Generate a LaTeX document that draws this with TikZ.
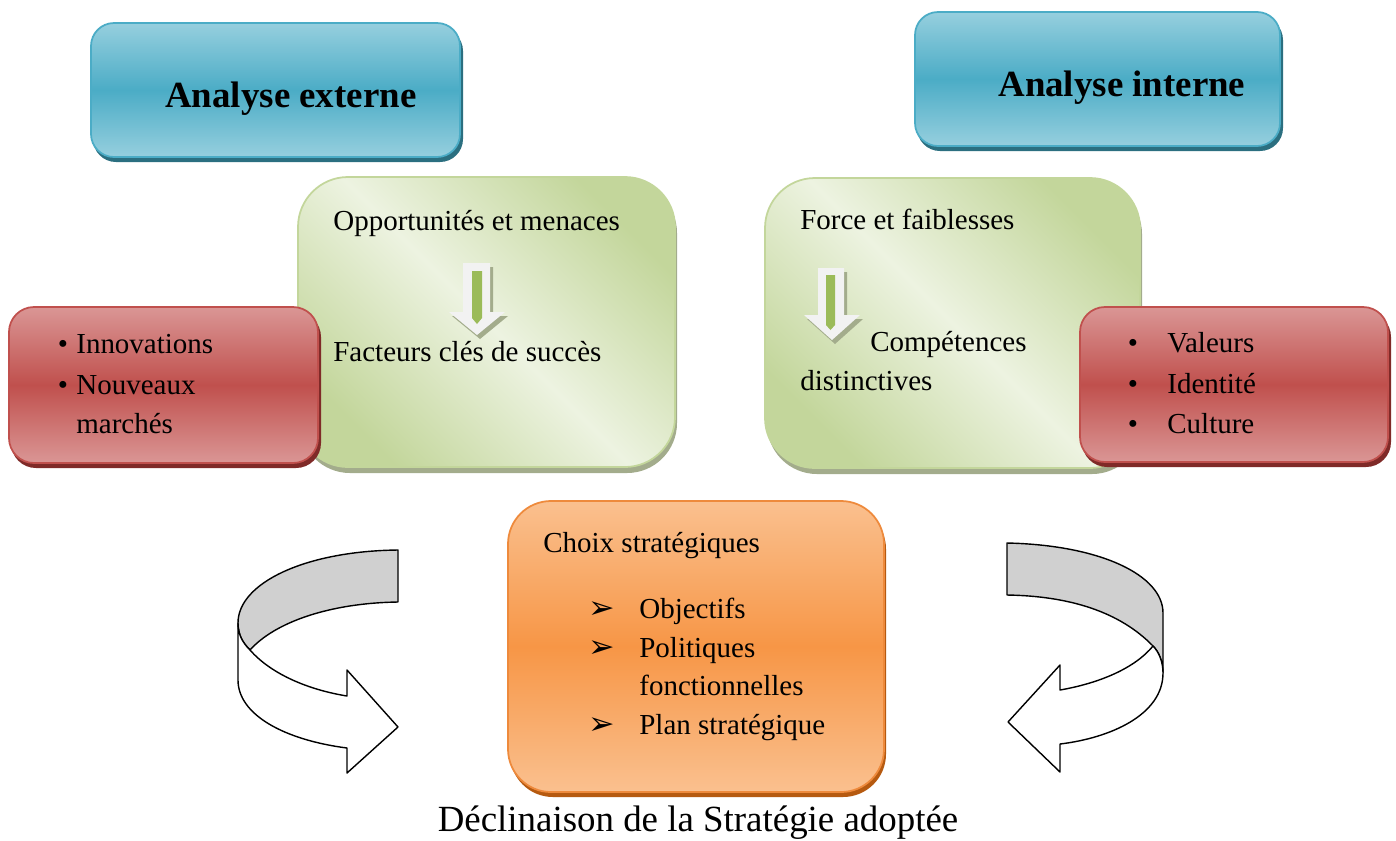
\documentclass[tikz,border=0pt]{standalone}
\usepackage{fontspec}
\setmainfont{Liberation Serif}
\newfontfamily\flechefont{DejaVu Sans}

\definecolor{bleuClair}{HTML}{96CFDE}
\definecolor{bleuFonce}{HTML}{4BACC6}
\definecolor{bleuOmbre}{HTML}{2B6F80}
\definecolor{vertClair}{HTML}{EDF3E1}
\definecolor{vertFonce}{HTML}{C3D69B}
\definecolor{vertOmbre}{HTML}{A3AC8C}
\definecolor{vertFleche}{HTML}{9BBB59}
\definecolor{rougeClair}{HTML}{DA9695}
\definecolor{rougeFonce}{HTML}{C0504D}
\definecolor{rougeOmbre}{HTML}{7F2A28}
\definecolor{orangeClair}{HTML}{FAC08F}
\definecolor{orangeFonce}{HTML}{F79646}
\definecolor{orangeBord}{HTML}{EE8A3C}
\definecolor{orangeOmbre}{HTML}{B65A10}
\definecolor{grisRuban}{HTML}{D0D0D0}

\tikzset{
  txt/.style={anchor=base west, inner sep=0pt, font=\fontsize{16.5}{22.7}\selectfont},
  titre/.style={anchor=base west, inner sep=0pt, font=\fontsize{21}{25}\selectfont\bfseries},
  bluebox/.style={rounded corners=0.46cm, draw=bleuFonce, line width=1pt,
    top color=bleuClair, bottom color=bleuClair, middle color=bleuFonce},
  greenbox/.style={rounded corners=1cm, draw=vertFonce, line width=1pt,
    top color=vertFonce, bottom color=vertFonce, middle color=vertClair, shading angle=-45},
  redbox/.style={rounded corners=0.5cm, draw=rougeFonce, line width=1pt,
    top color=rougeClair, bottom color=rougeClair, middle color=rougeFonce},
  orangebox/.style={rounded corners=0.86cm, draw=orangeBord, line width=1pt,
    top color=orangeClair, bottom color=orangeClair, middle color=orangeFonce},
  ruban/.style={draw=black, line width=0.8pt, line join=round},
}

\begin{document}
\begin{tikzpicture}[x=0.02cm, y=-0.02cm]
  \useasboundingbox (0,0) rectangle (1396,840);

  % Cadres bleus
  \fill[bleuOmbre, rounded corners=0.46cm] (93,28) rectangle (463,162);
  \path[bluebox] (91,23) rectangle (460,157);
  \fill[bleuOmbre, rounded corners=0.46cm] (917,17) rectangle (1283,151);
  \path[bluebox] (915,12) rectangle (1280,146);

  % Cadres verts
  \fill[vertOmbre, rounded corners=1cm] (300,183) rectangle (677,473);
  \path[greenbox] (298,177) rectangle (675,467);
  \fill[vertOmbre, rounded corners=1cm] (767,184) rectangle (1142,474);
  \path[greenbox] (765,178) rectangle (1140,468);

  % Petites fleches vertes
  \fill[vertOmbre] (466,267) -- (493,267) -- (493,316) -- (508,316) -- (480,339) -- (452,316) -- (466,316) -- cycle;
  \fill[white!95!black] (463,263) -- (490,263) -- (490,312) -- (505,312) -- (477,335) -- (449,312) -- (463,312) -- cycle;
  \fill[vertFleche] (472,271) -- (482,271) -- (482,318) -- (477,324) -- (472,318) -- cycle;
  \fill[vertOmbre] (821,272) -- (847,272) -- (847,319) -- (863,319) -- (835,344) -- (807,319) -- (821,319) -- cycle;
  \fill[white!95!black] (818,268) -- (844,268) -- (844,315) -- (860,315) -- (832,340) -- (804,315) -- (818,315) -- cycle;
  \fill[vertFleche] (826,275) -- (835,275) -- (835,325) -- (830.5,330) -- (826,325) -- cycle;

  % Cadres rouges
  \fill[rougeOmbre, rounded corners=0.5cm] (11,312) rectangle (321,468);
  \path[redbox] (9,307) rectangle (318,463);
  \fill[rougeOmbre, rounded corners=0.5cm] (1082,312) rectangle (1391,467);
  \path[redbox] (1080,307) rectangle (1388,462);

  % Cadre orange
  \fill[orangeOmbre, rounded corners=0.86cm] (510,506) rectangle (886,797);
  \path[orangebox] (508,501) rectangle (884,792);

  % Rubans courbes
  \path[ruban, fill=grisRuban] (398,550) .. controls (305,551) and (238,583) .. (238,623)
    .. controls (238,635) and (243,643) .. (250,650)
    .. controls (275,622) and (330,603) .. (398,602) -- cycle;
  \path[ruban, fill=white] (238,623) .. controls (238,635) and (243,643) .. (250,650)
    .. controls (272,675) and (310,690) .. (347,696) -- (347,670) -- (398,727) -- (347,773) -- (347,748)
    .. controls (285,740) and (238,715) .. (238,680) -- cycle;
  \path[ruban, fill=grisRuban] (1007,543) .. controls (1100,545) and (1163,575) .. (1163,613)
    -- (1163,673) .. controls (1163,662) and (1159,652) .. (1153,646)
    .. controls (1120,612) and (1070,596) .. (1007,595) -- cycle;
  \path[ruban, fill=white] (1153,646) .. controls (1159,652) and (1163,662) .. (1163,673)
    .. controls (1163,715) and (1110,738) .. (1060,744) -- (1060,772) -- (1008,722) -- (1060,665) -- (1060,690)
    .. controls (1100,683) and (1135,668) .. (1153,646) -- cycle;

  % Textes
  \node[txt, anchor=base, font=\fontsize{21}{25}\selectfont] (legende) at (698,831) {Déclinaison de la Stratégie adoptée};
  \node[titre] (titreExt) at (165,107) {Analyse externe};
  \node[titre] (titreInt) at (998,96) {Analyse interne};
  \node[txt] (opport) at (333,230) {Opportunités et menaces};
  \node[txt] (facteurs) at (333,361) {Facteurs clés de succès};
  \node[txt] (force) at (800,229) {Force et faiblesses};
  \node[txt] (compet) at (870,351) {Compétences};
  \node[txt] (distinct) at (800,390) {distinctives};
  \node[txt, anchor=base] (puceA) at (63,353) {•};
  \node[txt] (innov) at (76,353) {Innovations};
  \node[txt, anchor=base] (puceB) at (63,394) {•};
  \node[txt] (nouv) at (76,394) {Nouveaux};
  \node[txt] (march) at (76,433) {marchés};
  \foreach \y/\mot/\nom in {352/Valeurs/val, 393/Identité/ident, 433/Culture/cult}{
    \node[txt, anchor=base] (puce-\nom) at (1133,\y) {•};
    \node[txt] (\nom) at (1167,\y) {\mot};
  }
  \node[txt] (choix) at (543,552) {Choix stratégiques};
  \foreach \y/\mot/\nom in {618/Objectifs/obj, 657/Politiques/pol, 734/Plan stratégique/plan}{
    \node[txt, anchor=base, font=\flechefont\fontsize{18}{18}\selectfont] (fl-\nom) at (602,\y) {➢};
    \node[txt] (\nom) at (639,\y) {\mot};
  }
  \node[txt] (fonct) at (639,695) {fonctionnelles};
\end{tikzpicture}
\end{document}
